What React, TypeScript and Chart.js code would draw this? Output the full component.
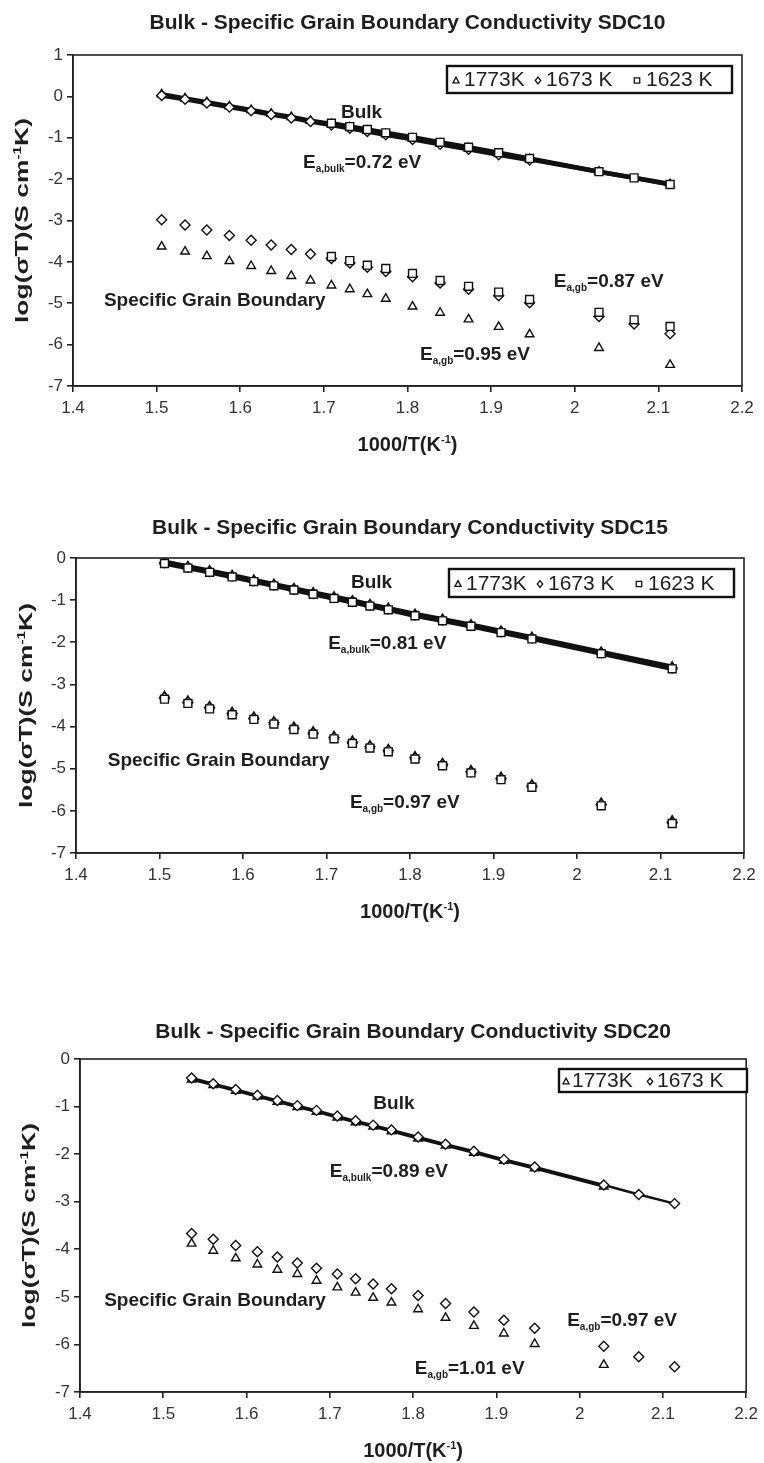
import React, { useEffect, useRef } from 'react';
import { Chart, registerables } from 'chart.js';

Chart.register(...registerables);

const FONT = '"Liberation Sans", Arial, Helvetica, sans-serif';

// ---------- shared axis ticks ----------
const X_TICKS = [1.4, 1.5, 1.6, 1.7, 1.8, 1.9, 2.0, 2.1, 2.2];
const X_TICK_LABELS = ['1.4', '1.5', '1.6', '1.7', '1.8', '1.9', '2', '2.1', '2.2'];
const Y_TICKS_C1 = [1, 0, -1, -2, -3, -4, -5, -6, -7];
const Y_TICK_LABELS_C1 = ['1', '0', '-1', '-2', '-3', '-4', '-5', '-6', '-7'];
const Y_TICKS_C23 = [0, -1, -2, -3, -4, -5, -6, -7];
const Y_TICK_LABELS_C23 = ['0', '-1', '-2', '-3', '-4', '-5', '-6', '-7'];

// ---------- SDC10 ----------
const C1_X_1673 = [1.506, 1.534, 1.560, 1.587, 1.613, 1.637, 1.661, 1.684, 1.709, 1.731, 1.752, 1.774, 1.806, 1.839, 1.873, 1.909, 1.946, 2.029, 2.071, 2.114];
const C1_X_1773 = [1.506, 1.534, 1.560, 1.587, 1.613, 1.637, 1.661, 1.684, 1.709, 1.731, 1.752, 1.774, 1.806, 1.839, 1.873, 1.909, 1.946, 2.029, 2.114];
const C1_X_1623 = [1.709, 1.731, 1.752, 1.774, 1.806, 1.839, 1.873, 1.909, 1.946, 2.029, 2.071, 2.114];
const C1_X_BULK_1673 = [1.506, 1.534, 1.560, 1.587, 1.613, 1.637, 1.661, 1.684, 1.709, 1.731, 1.752, 1.774, 1.806, 1.839, 1.873, 1.909, 1.946];

const C1_BULK_1773 = [0.05, -0.05, -0.14, -0.24, -0.33, -0.42, -0.50, -0.59, -0.67, -0.75, -0.83, -0.91, -1.02, -1.14, -1.26, -1.39, -1.52, -1.82, -2.12];
const C1_BULK_1673 = [0.02, -0.07, -0.16, -0.26, -0.35, -0.44, -0.52, -0.61, -0.69, -0.77, -0.85, -0.93, -1.04, -1.16, -1.28, -1.41, -1.54];
const C1_BULK_1623 = [-0.65, -0.73, -0.80, -0.88, -0.99, -1.11, -1.23, -1.36, -1.50, -1.82, -1.97, -2.13];
const C1_GB_1773 = [-3.63, -3.75, -3.86, -3.98, -4.10, -4.22, -4.34, -4.45, -4.57, -4.66, -4.78, -4.89, -5.08, -5.23, -5.39, -5.57, -5.75, -6.08, -6.49];
const C1_GB_1673 = [-2.98, -3.11, -3.23, -3.36, -3.48, -3.59, -3.70, -3.81, -3.92, -4.03, -4.13, -4.23, -4.36, -4.51, -4.66, -4.82, -4.99, -5.32, -5.50, -5.74];
const C1_GB_1623 = [-3.87, -3.97, -4.08, -4.16, -4.28, -4.45, -4.59, -4.73, -4.91, -5.22, -5.40, -5.56];

// ---------- SDC15 ----------
const C2_X = [1.506, 1.534, 1.560, 1.587, 1.613, 1.637, 1.661, 1.684, 1.709, 1.731, 1.752, 1.774, 1.806, 1.839, 1.873, 1.909, 1.946, 2.029, 2.114];
const C2_BULK_1773 = [-0.09, -0.20, -0.30, -0.41, -0.52, -0.62, -0.72, -0.82, -0.92, -1.01, -1.10, -1.19, -1.33, -1.45, -1.58, -1.73, -1.88, -2.23, -2.58];
const C2_BULK_1673 = [-0.11, -0.22, -0.32, -0.43, -0.54, -0.64, -0.74, -0.84, -0.94, -1.03, -1.12, -1.21, -1.35, -1.47, -1.60, -1.75, -1.90, -2.25, -2.61];
const C2_BULK_1623 = [-0.13, -0.24, -0.34, -0.45, -0.56, -0.66, -0.76, -0.86, -0.96, -1.05, -1.14, -1.23, -1.37, -1.49, -1.62, -1.77, -1.92, -2.27, -2.63];
const C2_GB_1773 = [-3.28, -3.39, -3.52, -3.66, -3.77, -3.88, -4.01, -4.12, -4.23, -4.34, -4.45, -4.54, -4.71, -4.87, -5.04, -5.20, -5.38, -5.81, -6.23];
const C2_GB_1673 = [-3.31, -3.42, -3.55, -3.69, -3.80, -3.91, -4.04, -4.15, -4.26, -4.37, -4.48, -4.57, -4.74, -4.90, -5.07, -5.23, -5.41, -5.85, -6.27];
const C2_GB_1623 = [-3.35, -3.45, -3.58, -3.72, -3.83, -3.94, -4.07, -4.18, -4.29, -4.40, -4.51, -4.60, -4.77, -4.93, -5.10, -5.26, -5.44, -5.88, -6.30];

// ---------- SDC20 ----------
const C3_X_1673 = [1.534, 1.560, 1.587, 1.613, 1.637, 1.661, 1.684, 1.709, 1.731, 1.752, 1.774, 1.806, 1.839, 1.873, 1.909, 1.946, 2.029, 2.071, 2.114];
const C3_X_1773 = [1.534, 1.560, 1.587, 1.613, 1.637, 1.661, 1.684, 1.709, 1.731, 1.752, 1.774, 1.806, 1.839, 1.873, 1.909, 1.946, 2.029];
const C3_BULK_1773 = [-0.43, -0.55, -0.67, -0.79, -0.90, -1.01, -1.11, -1.23, -1.33, -1.42, -1.52, -1.67, -1.82, -1.97, -2.14, -2.30, -2.68];
const C3_BULK_1673 = [-0.40, -0.52, -0.64, -0.76, -0.87, -0.98, -1.08, -1.20, -1.30, -1.39, -1.49, -1.64, -1.79, -1.94, -2.11, -2.27, -2.65, -2.85, -3.04];
const C3_GB_1773 = [-3.88, -4.03, -4.19, -4.32, -4.43, -4.52, -4.66, -4.80, -4.91, -5.02, -5.12, -5.26, -5.44, -5.61, -5.77, -5.99, -6.43];
const C3_GB_1673 = [-3.67, -3.79, -3.92, -4.05, -4.16, -4.29, -4.40, -4.52, -4.62, -4.73, -4.83, -4.97, -5.14, -5.32, -5.49, -5.66, -6.04, -6.26, -6.47];

const LBL_1773 = '1773K';
const LBL_1673 = '1673 K';
const LBL_1623 = '1623 K';

type Shape = 'triangle' | 'rectRot' | 'rect';
type Part = { t: string; sub?: boolean };
type Ann = { x: number; y: number; parts: Part[]; align: 'left' | 'center' };
type SeriesSpec = { shape: Shape; xs: number[]; ys: number[]; bulk: boolean };
type LegendEntry = { shape: Shape; label: string; mx: number; tx: number };

type Spec = {
  width: number;
  height: number;
  top: number;
  plotLeft: number;
  plotTop: number;
  plotRight: number;
  plotBottom: number;
  yMin: number;
  yMax: number;
  yTicks: number[];
  yTickLabels: string[];
  title: string;
  titleY: number;
  xTitleY: number;
  yTitleX: number;
  lineWidth: number;
  series: SeriesSpec[];
  anns: Ann[];
  legend: { left: number; top: number; w: number; h: number; entries: LegendEntry[] };
};

const E = (sub: string, rest: string): Part[] => [{ t: 'E' }, { t: sub, sub: true }, { t: rest }];

const zip = (xs: number[], ys: number[]) => xs.map((x, i) => ({ x, y: ys[i] }));

const SPECS: Spec[] = [
  {
    width: 764, height: 465, top: 0,
    plotLeft: 73, plotTop: 55, plotRight: 742, plotBottom: 386,
    yMin: -7, yMax: 1, yTicks: Y_TICKS_C1, yTickLabels: Y_TICK_LABELS_C1,
    title: 'Bulk - Specific Grain Boundary Conductivity SDC10', titleY: 23, xTitleY: 444, yTitleX: 21,
    lineWidth: 4.5,
    series: [
      { shape: 'rect', xs: C1_X_1623, ys: C1_GB_1623, bulk: false },
      { shape: 'rectRot', xs: C1_X_1673, ys: C1_GB_1673, bulk: false },
      { shape: 'triangle', xs: C1_X_1773, ys: C1_GB_1773, bulk: false },
      { shape: 'rect', xs: C1_X_1623, ys: C1_BULK_1623, bulk: true },
      { shape: 'rectRot', xs: C1_X_BULK_1673, ys: C1_BULK_1673, bulk: true },
      { shape: 'triangle', xs: C1_X_1773, ys: C1_BULK_1773, bulk: true },
    ],
    anns: [
      { x: 1.745, y: -0.35, parts: [{ t: 'Bulk' }], align: 'center' },
      { x: 1.675, y: -1.55, parts: E('a,bulk', '=0.72 eV'), align: 'left' },
      { x: 1.437, y: -4.9, parts: [{ t: 'Specific Grain Boundary' }], align: 'left' },
      { x: 1.975, y: -4.45, parts: E('a,gb', '=0.87 eV'), align: 'left' },
      { x: 1.815, y: -6.2, parts: E('a,gb', '=0.95 eV'), align: 'left' },
    ],
    legend: {
      left: 447, top: 66, w: 285, h: 27,
      entries: [
        { shape: 'triangle', label: LBL_1773, mx: 9, tx: 17 },
        { shape: 'rectRot', label: LBL_1673, mx: 91, tx: 99 },
        { shape: 'rect', label: LBL_1623, mx: 190, tx: 199 },
      ],
    },
  },
  {
    width: 764, height: 460, top: 475,
    plotLeft: 76, plotTop: 83, plotRight: 744, plotBottom: 378,
    yMin: -7, yMax: 0, yTicks: Y_TICKS_C23, yTickLabels: Y_TICK_LABELS_C23,
    title: 'Bulk - Specific Grain Boundary Conductivity SDC15', titleY: 53, xTitleY: 436, yTitleX: 25,
    lineWidth: 4.5,
    series: [
      { shape: 'rect', xs: C2_X, ys: C2_GB_1623, bulk: false },
      { shape: 'rectRot', xs: C2_X, ys: C2_GB_1673, bulk: false },
      { shape: 'triangle', xs: C2_X, ys: C2_GB_1773, bulk: false },
      { shape: 'rect', xs: C2_X, ys: C2_BULK_1623, bulk: true },
      { shape: 'rectRot', xs: C2_X, ys: C2_BULK_1673, bulk: true },
      { shape: 'triangle', xs: C2_X, ys: C2_BULK_1773, bulk: true },
    ],
    anns: [
      { x: 1.754, y: -0.55, parts: [{ t: 'Bulk' }], align: 'center' },
      { x: 1.702, y: -2.0, parts: E('a,bulk', '=0.81 eV'), align: 'left' },
      { x: 1.438, y: -4.76, parts: [{ t: 'Specific Grain Boundary' }], align: 'left' },
      { x: 1.728, y: -5.77, parts: E('a,gb', '=0.97 eV'), align: 'left' },
    ],
    legend: {
      left: 449, top: 94, w: 285, h: 28,
      entries: [
        { shape: 'triangle', label: LBL_1773, mx: 9, tx: 17 },
        { shape: 'rectRot', label: LBL_1673, mx: 91, tx: 99 },
        { shape: 'rect', label: LBL_1623, mx: 190, tx: 199 },
      ],
    },
  },
  {
    width: 764, height: 513, top: 950,
    plotLeft: 80, plotTop: 109, plotRight: 751, plotBottom: 442,
    yMin: -7, yMax: 0, yTicks: Y_TICKS_C23, yTickLabels: Y_TICK_LABELS_C23,
    title: 'Bulk - Specific Grain Boundary Conductivity SDC20', titleY: 82, xTitleY: 500, yTitleX: 28,
    lineWidth: 2.5,
    series: [
      { shape: 'rectRot', xs: C3_X_1673, ys: C3_GB_1673, bulk: false },
      { shape: 'triangle', xs: C3_X_1773, ys: C3_GB_1773, bulk: false },
      { shape: 'rectRot', xs: C3_X_1673, ys: C3_BULK_1673, bulk: true },
      { shape: 'triangle', xs: C3_X_1773, ys: C3_BULK_1773, bulk: true },
    ],
    anns: [
      { x: 1.777, y: -0.9, parts: [{ t: 'Bulk' }], align: 'center' },
      { x: 1.70, y: -2.34, parts: E('a,bulk', '=0.89 eV'), align: 'left' },
      { x: 1.429, y: -5.05, parts: [{ t: 'Specific Grain Boundary' }], align: 'left' },
      { x: 1.985, y: -5.47, parts: E('a,gb', '=0.97 eV'), align: 'left' },
      { x: 1.802, y: -6.48, parts: E('a,gb', '=1.01 eV'), align: 'left' },
    ],
    legend: {
      left: 559, top: 119, w: 188, h: 23,
      entries: [
        { shape: 'triangle', label: LBL_1773, mx: 7, tx: 13 },
        { shape: 'rectRot', label: LBL_1673, mx: 91, tx: 98 },
      ],
    },
  },
];

const TEXT = '#1e1e1e';

function drawMarker(ctx: CanvasRenderingContext2D, shape: Shape, x: number, y: number, r: number) {
  ctx.beginPath();
  if (shape === 'triangle') {
    ctx.moveTo(x, y - r);
    ctx.lineTo(x + r * 0.9, y + r * 0.7);
    ctx.lineTo(x - r * 0.9, y + r * 0.7);
    ctx.closePath();
  } else if (shape === 'rectRot') {
    ctx.moveTo(x, y - r);
    ctx.lineTo(x + r * 0.8, y);
    ctx.lineTo(x, y + r);
    ctx.lineTo(x - r * 0.8, y);
    ctx.closePath();
  } else {
    ctx.rect(x - r * 0.8, y - r * 0.8, r * 1.6, r * 1.6);
  }
  ctx.fillStyle = '#fff';
  ctx.fill();
  ctx.lineWidth = 1.3;
  ctx.strokeStyle = '#111';
  ctx.stroke();
}

function drawRich(ctx: CanvasRenderingContext2D, parts: Part[], x: number, yCenter: number, align: 'left' | 'center') {
  const big = 'bold 19px ' + FONT;
  const small = 'bold 10px ' + FONT;
  let total = 0;
  const ws = parts.map((p) => {
    ctx.font = p.sub ? small : big;
    const w = ctx.measureText(p.t).width;
    total += w;
    return w;
  });
  let cx = align === 'center' ? x - total / 2 : x;
  const base = yCenter + 7;
  ctx.textAlign = 'left';
  ctx.textBaseline = 'alphabetic';
  ctx.fillStyle = TEXT;
  parts.forEach((p, i) => {
    ctx.font = p.sub ? small : big;
    ctx.fillText(p.t, cx, base + (p.sub ? 4 : 0));
    cx += ws[i];
  });
}

function makeConfig(spec: Spec): any {
  const datasets: any[] = [];
  spec.series.forEach((s) => {
    if (s.bulk) {
      datasets.push({
        data: zip(s.xs, s.ys),
        showLine: true,
        borderColor: '#111',
        borderWidth: spec.lineWidth,
        pointRadius: 0,
        fill: false,
        order: 10,
      });
    }
  });
  spec.series.forEach((s, i) => {
    const r = s.shape === 'rect' ? 5.6 : 5;
    datasets.push({
      data: zip(s.xs, s.ys),
      showLine: false,
      pointStyle: s.shape,
      pointRadius: r,
      pointBackgroundColor: '#fff',
      pointBorderColor: '#111',
      pointBorderWidth: 1.4,
      order: i,
    });
  });

  const overlay = {
    id: 'overlay',
    afterDraw(chart: any) {
      const ctx: CanvasRenderingContext2D = chart.ctx;
      const a = chart.chartArea;
      const xs = chart.scales.x;
      const ys = chart.scales.y;
      ctx.save();
      ctx.strokeStyle = '#222';
      ctx.lineWidth = 1.6;
      ctx.strokeRect(a.left, a.top, a.right - a.left, a.bottom - a.top);

      ctx.fillStyle = TEXT;
      ctx.font = 'bold 21px ' + FONT;
      ctx.textAlign = 'center';
      ctx.textBaseline = 'middle';
      ctx.fillText(spec.title, (a.left + a.right) / 2, spec.titleY);

      const xt1 = '1000/T(K';
      const xt2 = '-1';
      const xt3 = ')';
      ctx.font = 'bold 20px ' + FONT;
      const w1 = ctx.measureText(xt1).width;
      const w3 = ctx.measureText(xt3).width;
      ctx.font = 'bold 11px ' + FONT;
      const w2 = ctx.measureText(xt2).width;
      let sx = (a.left + a.right) / 2 - (w1 + w2 + w3) / 2;
      ctx.textAlign = 'left';
      ctx.textBaseline = 'alphabetic';
      const xb = spec.xTitleY + 7;
      ctx.font = 'bold 20px ' + FONT;
      ctx.fillText(xt1, sx, xb);
      sx += w1;
      ctx.font = 'bold 11px ' + FONT;
      ctx.fillText(xt2, sx, xb - 8);
      sx += w2;
      ctx.font = 'bold 20px ' + FONT;
      ctx.fillText(xt3, sx, xb);

      const yParts: Part[] = [{ t: 'log(σT)(S cm' }, { t: '-1', sub: true }, { t: 'K)' }];
      ctx.save();
      ctx.translate(spec.yTitleX, (a.top + a.bottom) / 2);
      ctx.rotate(-Math.PI / 2);
      let tot = 0;
      const yw = yParts.map((p) => {
        ctx.font = (p.sub ? 'bold 11px ' : 'bold 19px ') + FONT;
        const w = ctx.measureText(p.t).width;
        tot += w;
        return w;
      });
      const target = 205;
      ctx.scale(target / tot, 1);
      let px = -tot / 2;
      yParts.forEach((p, i) => {
        ctx.font = (p.sub ? 'bold 11px ' : 'bold 19px ') + FONT;
        ctx.fillText(p.t, px, 7 + (p.sub ? -7 : 0));
        px += yw[i];
      });
      ctx.restore();

      spec.anns.forEach((an) => {
        drawRich(ctx, an.parts, xs.getPixelForValue(an.x), ys.getPixelForValue(an.y), an.align);
      });

      const lg = spec.legend;
      ctx.fillStyle = '#fff';
      ctx.fillRect(lg.left, lg.top, lg.w, lg.h);
      ctx.strokeStyle = '#111';
      ctx.lineWidth = 2.4;
      ctx.strokeRect(lg.left, lg.top, lg.w, lg.h);
      ctx.textAlign = 'left';
      ctx.textBaseline = 'middle';
      lg.entries.forEach((en) => {
        drawMarker(ctx, en.shape, lg.left + en.mx, lg.top + lg.h / 2 + 1, 3.4);
        ctx.fillStyle = TEXT;
        ctx.font = '21px ' + FONT;
        ctx.fillText(en.label, lg.left + en.tx, lg.top + lg.h / 2 + 1);
      });
      ctx.restore();
    },
  };

  return {
    type: 'scatter',
    data: { datasets },
    plugins: [overlay],
    options: {
      animation: false,
      responsive: false,
      maintainAspectRatio: false,
      events: [],
      layout: { padding: { top: spec.plotTop, right: spec.width - spec.plotRight, left: 0, bottom: 0 } },
      plugins: { legend: { display: false }, tooltip: { enabled: false }, title: { display: false } },
      scales: {
        x: {
          type: 'linear',
          min: 1.4,
          max: 2.2,
          afterBuildTicks: (axis: any) => {
            axis.ticks = X_TICKS.map((v) => ({ value: v }));
          },
          afterFit: (axis: any) => {
            axis.height = spec.height - spec.plotBottom;
          },
          ticks: {
            autoSkip: false,
            maxRotation: 0,
            padding: 6,
            color: '#333',
            font: { family: FONT, size: 17 },
            callback: (_v: any, i: number) => X_TICK_LABELS[i],
          },
          grid: { display: true, drawOnChartArea: false, drawTicks: true, tickLength: 6, color: '#222', lineWidth: 1.6 },
          border: { display: true, color: '#222', width: 1.6 },
        },
        y: {
          type: 'linear',
          min: spec.yMin,
          max: spec.yMax,
          afterBuildTicks: (axis: any) => {
            axis.ticks = spec.yTicks.map((v) => ({ value: v }));
          },
          afterFit: (axis: any) => {
            axis.width = spec.plotLeft;
          },
          ticks: {
            autoSkip: false,
            padding: 4,
            color: '#333',
            font: { family: FONT, size: 17 },
            callback: (_v: any, i: number) => spec.yTickLabels[i],
          },
          grid: { display: true, drawOnChartArea: false, drawTicks: true, tickLength: 6, color: '#222', lineWidth: 1.6 },
          border: { display: true, color: '#222', width: 1.6 },
        },
      },
    },
  };
}

function Plot({ spec }: { spec: Spec }) {
  const ref = useRef<HTMLCanvasElement | null>(null);
  useEffect(() => {
    if (!ref.current) return;
    const chart = new Chart(ref.current, makeConfig(spec));
    return () => chart.destroy();
  }, [spec]);
  return (
    <canvas
      ref={ref}
      width={spec.width}
      height={spec.height}
      style={{ position: 'absolute', left: 0, top: spec.top, width: spec.width, height: spec.height }}
    />
  );
}

export default function App() {
  return (
    <div style={{ position: 'absolute', left: 0, top: 0, width: 764, height: 1463, background: '#fff', overflow: 'hidden' }}>
      {SPECS.map((s, i) => (
        <Plot key={i} spec={s} />
      ))}
    </div>
  );
}
